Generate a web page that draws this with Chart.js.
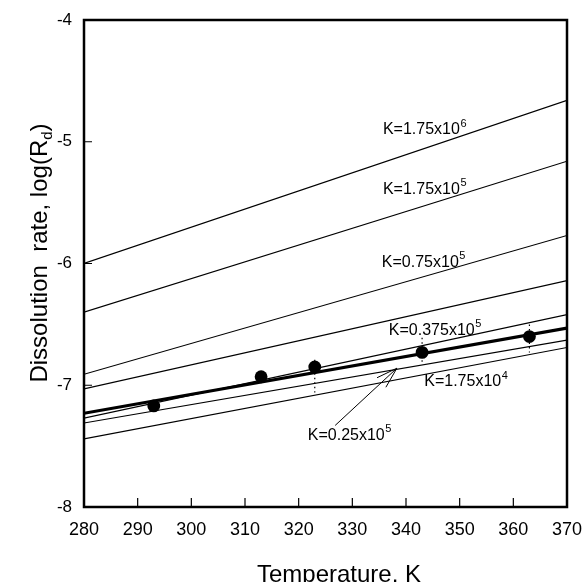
<!DOCTYPE html>
<html>
<head>
<meta charset="utf-8">
<script src="https://cdn.jsdelivr.net/npm/chart.js@4/dist/chart.umd.min.js"></script>
<style>
  body { margin: 0; background: #fff; }
  #wrap { width: 583px; height: 582px; }
</style>
</head>
<body>
<div id="wrap"><canvas id="chart" width="583" height="582"></canvas></div>
<script>
// values
const lineTemps = [280, 370]
const k175e6 = [-6.00, -4.66]
const k175e5 = [-6.40, -5.16]
const k075e5 = [-6.91, -5.77]
const unlabeledLine = [-7.03, -6.14]
const k0375e5 = [-7.27, -6.42]
const fitLine = [-7.23, -6.53]
const k025e5 = [-7.31, -6.63]
const k175e4 = [-7.44, -6.69]

const obsTemps = [293, 313, 323, 343, 363]
const obsRate = [-7.17, -6.93, -6.85, -6.73, -6.60]
const errHigh = [null, null, -6.79, -6.61, -6.50]
const errLow = [null, null, -7.06, -6.81, -6.73]

const xTicks = [280, 290, 300, 310, 320, 330, 340, 350, 360, 370]
const yTicks = [-8, -7, -6, -5, -4]

// curve labels: [base text, superscript]
const curveLabels = [
    ['K=1.75x10', '6'],
    ['K=1.75x10', '5'],
    ['K=0.75x10', '5'],
    ['K=0.375x10', '5'],
    ['K=1.75x10', '4'],
    ['K=0.25x10', '5']
]

const FONT = '"Liberation Sans", Arial, Helvetica, sans-serif'

const toPoints = (xs, ys) => xs.map((x, i) => ({x: x, y: ys[i]}))

const thinLine = (vals) => ({
    data: toPoints(lineTemps, vals),
    showLine: true,
    borderColor: '#000',
    borderWidth: 1.2,
    pointRadius: 0,
    fill: false
})

let datasets = [
    thinLine(k175e6),
    thinLine(k175e5),
    thinLine(k075e5),
    thinLine(unlabeledLine),
    thinLine(k0375e5),
    thinLine(k025e5),
    thinLine(k175e4),
    {
        data: toPoints(lineTemps, fitLine),
        showLine: true,
        borderColor: '#000',
        borderWidth: 3.2,
        pointRadius: 0,
        fill: false
    },
    {
        data: toPoints(obsTemps, obsRate),
        showLine: false,
        pointRadius: 6.4,
        pointBackgroundColor: '#000',
        pointBorderColor: '#000',
        pointBorderWidth: 0
    }
]

// where each label sits (data coords of the text's left / middle)
const labelSpots = [
    [335.7, -4.90],
    [335.7, -5.39],
    [335.5, -5.99],
    [336.8, -6.55],
    [343.4, -6.97],
    [321.7, -7.41]
]

const drawSupText = (ctx, base, sup, x, y) => {
    ctx.font = '16px ' + FONT
    ctx.textAlign = 'left'
    ctx.textBaseline = 'middle'
    ctx.fillText(base, x, y)
    let w = ctx.measureText(base).width
    ctx.font = '11px ' + FONT
    ctx.fillText(sup, x + w + 0.5, y - 6)
}

const decorPlugin = {
    id: 'decor',
    afterDraw(chart) {
        const ctx = chart.ctx
        const xs = chart.scales.x
        const ys = chart.scales.y
        const area = chart.chartArea
        ctx.save()
        ctx.fillStyle = '#000'
        ctx.strokeStyle = '#000'

        // frame
        ctx.lineWidth = 2.5
        ctx.strokeRect(area.left, area.top, area.right - area.left, area.bottom - area.top)

        // inside ticks
        ctx.lineWidth = 1.2
        ctx.beginPath()
        xTicks.forEach(t => {
            let px = xs.getPixelForValue(t)
            ctx.moveTo(px, area.bottom)
            ctx.lineTo(px, area.bottom - 9)
        })
        yTicks.forEach(t => {
            let py = ys.getPixelForValue(t)
            ctx.moveTo(area.left, py)
            ctx.lineTo(area.left + 8, py)
        })
        ctx.stroke()

        // dotted error bars
        ctx.setLineDash([1.5, 3])
        ctx.lineWidth = 1.2
        ctx.beginPath()
        obsTemps.forEach((t, i) => {
            if(errHigh[i] === null) return
            let px = xs.getPixelForValue(t)
            ctx.moveTo(px, ys.getPixelForValue(errHigh[i]))
            ctx.lineTo(px, ys.getPixelForValue(errLow[i]))
        })
        ctx.stroke()
        ctx.setLineDash([])

        // curve labels
        curveLabels.forEach((lab, i) => {
            drawSupText(ctx, lab[0], lab[1], xs.getPixelForValue(labelSpots[i][0]), ys.getPixelForValue(labelSpots[i][1]))
        })

        // arrow to K=0.25x10^5 curve
        let ax0 = xs.getPixelForValue(326.8), ay0 = ys.getPixelForValue(-7.33)
        let ax1 = xs.getPixelForValue(338.3), ay1 = ys.getPixelForValue(-6.86)
        let ang = Math.atan2(ay1 - ay0, ax1 - ax0)
        ctx.lineWidth = 1
        ctx.beginPath()
        ctx.moveTo(ax0, ay0)
        ctx.lineTo(ax1, ay1)
        ctx.moveTo(ax1 - 22 * Math.cos(ang - 0.3), ay1 - 22 * Math.sin(ang - 0.3))
        ctx.lineTo(ax1, ay1)
        ctx.lineTo(ax1 - 22 * Math.cos(ang + 0.3), ay1 - 22 * Math.sin(ang + 0.3))
        ctx.stroke()

        // axis titles
        ctx.font = '24px ' + FONT
        ctx.textAlign = 'center'
        ctx.textBaseline = 'alphabetic'
        ctx.fillText('Temperature, K', 339, 582)

        ctx.translate(47, 253)
        ctx.rotate(-Math.PI / 2)
        let parts = ['Dissolution  rate, log(R', 'd', ')']
        let w0 = ctx.measureText(parts[0]).width
        let w2 = ctx.measureText(parts[2]).width
        ctx.font = '15px ' + FONT
        let w1 = ctx.measureText(parts[1]).width
        let start = -(w0 + w1 + w2) / 2
        ctx.textAlign = 'left'
        ctx.font = '24px ' + FONT
        ctx.fillText(parts[0], start, 0)
        ctx.font = '15px ' + FONT
        ctx.fillText(parts[1], start + w0, 5)
        ctx.font = '24px ' + FONT
        ctx.fillText(parts[2], start + w0 + w1, 0)
        ctx.restore()
    }
}

new Chart(document.getElementById('chart').getContext('2d'), {
    type: 'scatter',
    data: {datasets: datasets},
    options: {
        responsive: false,
        animation: false,
        devicePixelRatio: 1,
        layout: {padding: {top: 20, right: 16, left: 0, bottom: 0}},
        plugins: {legend: {display: false}, tooltip: {enabled: false}},
        scales: {
            x: {
                type: 'linear',
                min: 280,
                max: 370,
                afterFit: s => { s.height = 75; s.paddingLeft = 0; s.paddingRight = 0 },
                afterBuildTicks: s => { s.ticks = xTicks.map(v => ({value: v})) },
                grid: {display: false, drawTicks: false},
                border: {display: false},
                ticks: {color: '#000', font: {family: FONT, size: 18}, padding: 12, maxRotation: 0}
            },
            y: {
                type: 'linear',
                min: -8,
                max: -4,
                afterFit: s => { s.width = 84; s.paddingTop = 0; s.paddingBottom = 0 },
                afterBuildTicks: s => { s.ticks = yTicks.map(v => ({value: v})) },
                grid: {display: false, drawTicks: false},
                border: {display: false},
                ticks: {color: '#000', font: {family: FONT, size: 17}, padding: 12}
            }
        }
    },
    plugins: [decorPlugin]
})
</script>
</body>
</html>
